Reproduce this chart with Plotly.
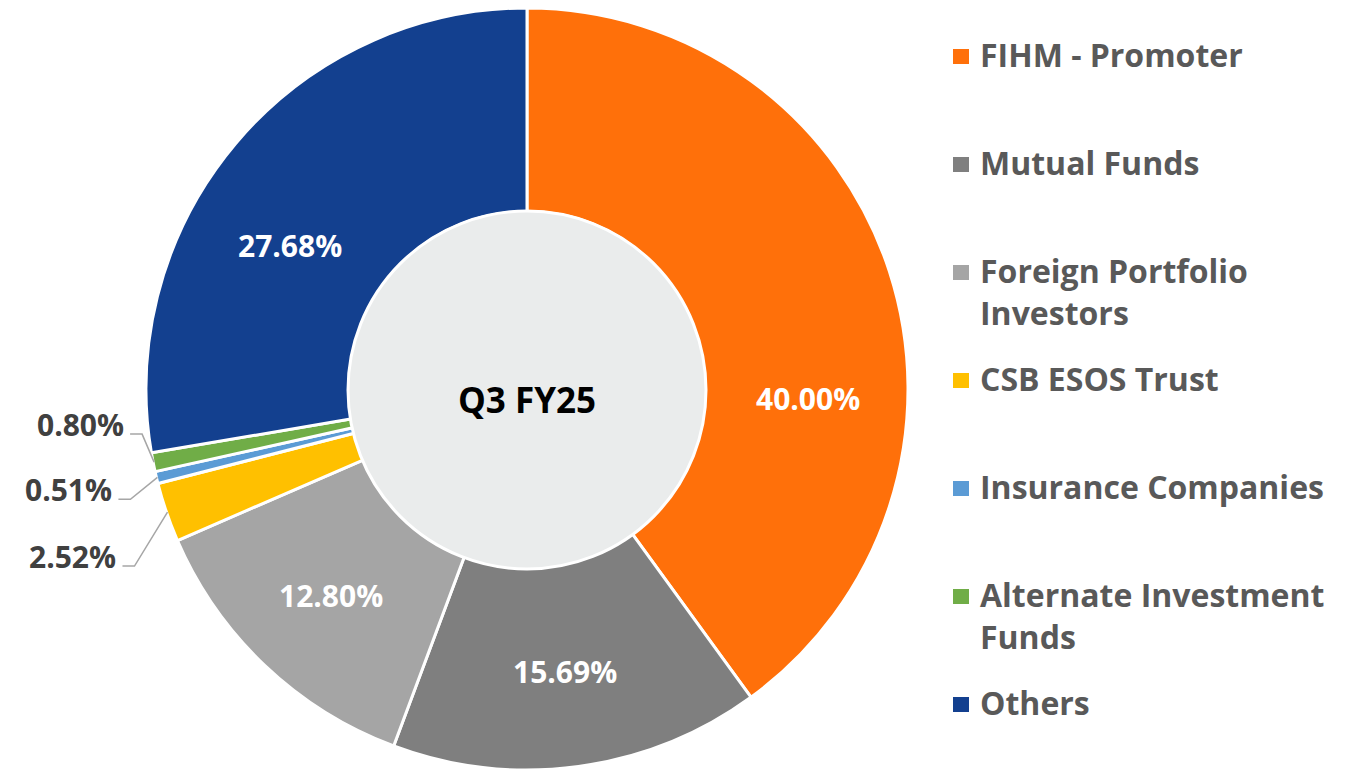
import math
import plotly.graph_objects as go

# ---------------- data ----------------
categories = ["FIHM - Promoter", "Mutual Funds", "Foreign Portfolio Investors",
              "CSB ESOS Trust", "Insurance Companies", "Alternate Investment Funds", "Others"]
shares = [40.00, 15.69, 12.80, 2.52, 0.51, 0.80, 27.68]
colors = ["#FF700A", "#7F7F7F", "#A5A5A5", "#FFC000", "#5B9BD5", "#70AD47", "#13408F"]
legend_text = ["FIHM - Promoter", "Mutual Funds", "Foreign Portfolio<br>Investors",
               "CSB ESOS Trust", "Insurance Companies", "Alternate Investment<br>Funds", "Others"]
center_title = "Q3 FY25"

# ---------------- layout constants (page pixel coordinates) ----------------
OFF = 8                 # default body margin of the html page
W, H = 1337, 770
R = 381                 # outer radius
PH = 2 * R              # plot-area height
MT, MB = 0, H - PH
CX, CY = 527, OFF + MT + R   # pie centre on the page
HOLE = 0.466
FONT = "Open Sans"

# label placement styles
inside_r = 285
label_adjust = {"FIHM - Promoter": (20, 281), "Others": (-9, 277)}  # (angle shift, radius)
outside_elbow = {  # (dx, dy) pixels from slice edge to elbow
    "CSB ESOS Trust": (-33, 54),
    "Insurance Companies": (-27, 22),
    "Alternate Investment Funds": (-12, -28),
}


def px(xpage):
    return (xpage - OFF) / W


def py(ypage):
    return (PH - (ypage - OFF - MT)) / PH


fig = go.Figure()
dom_half = R / W
cxp = px(CX)
fig.add_trace(go.Pie(
    labels=categories, values=shares, sort=False, direction="clockwise", rotation=0,
    hole=HOLE, marker=dict(colors=colors, line=dict(color="white", width=3)),
    textinfo="none", hoverinfo="label+percent", showlegend=False,
    domain=dict(x=[cxp - dom_half, cxp + dom_half], y=[0, 1]),
))

shapes = []
annotations = []

# inner circle
shapes.append(dict(type="circle", xref="paper", yref="paper",
                   xsizemode="pixel", ysizemode="pixel",
                   xanchor=px(CX), yanchor=py(CY + 1),
                   x0=-179, x1=179, y0=-179, y1=179,
                   fillcolor="#EAECEC", line=dict(color="white", width=3), layer="above"))
annotations.append(dict(text=center_title, x=px(CX), y=py(CY + 10), xref="paper", yref="paper",
                        showarrow=False, font=dict(family=FONT, size=35, color="black", weight="bold")))

# percentage labels
total = sum(shares)
cum = 0.0
for cat, v in zip(categories, shares):
    mid = (cum + v / 2) / total * 360.0
    cum += v
    label = f"{v:.2f}%"
    if cat in outside_elbow:
        a = math.radians(mid)
        ex, ey = CX + (R - 1) * math.sin(a), CY - (R - 1) * math.cos(a)
        dx, dy = outside_elbow[cat]
        bx, by = ex + dx, ey + dy
        hx = bx - 12
        shapes.append(dict(type="path", xref="paper", yref="paper",
                           path=f"M {px(ex)},{py(ey)} L {px(bx)},{py(by)} L {px(hx)},{py(by)}",
                           line=dict(color="#A6A6A6", width=1.5)))
        annotations.append(dict(text=label, x=px(hx - 4), y=py(by - 10), xref="paper", yref="paper",
                                xanchor="right", yanchor="middle", showarrow=False,
                                font=dict(family=FONT, size=30, color="#404040", weight="bold")))
    else:
        shift, rr = label_adjust.get(cat, (0, inside_r))
        a = math.radians(mid + shift)
        lx, ly = CX + rr * math.sin(a), CY - rr * math.cos(a)
        annotations.append(dict(text=label, x=px(lx), y=py(ly), xref="paper", yref="paper",
                                xanchor="center", yanchor="middle", showarrow=False,
                                font=dict(family=FONT, size=30, color="white", weight="bold")))

# custom legend
LEG_Y0, LEG_STEP = 55, 108
for i, (txt, col) in enumerate(zip(legend_text, colors)):
    yc = LEG_Y0 + i * LEG_STEP
    shapes.append(dict(type="rect", xref="paper", yref="paper",
                       xsizemode="pixel", ysizemode="pixel",
                       xanchor=px(961), yanchor=py(yc + 1.5),
                       x0=-8, x1=8, y0=-7.5, y1=7.5,
                       fillcolor=col, line=dict(width=0)))
    annotations.append(dict(text=txt, x=px(978), y=py(yc - 24), xref="paper", yref="paper",
                            xanchor="left", yanchor="top", align="left", showarrow=False,
                            font=dict(family=FONT, size=32, color="#595959", weight="bold")))

fig.update_layout(
    width=W, height=H, margin=dict(l=0, r=0, t=MT, b=MB),
    paper_bgcolor="white", plot_bgcolor="white",
    shapes=shapes, annotations=annotations, showlegend=False,
)

fig.write_html("out.html")
